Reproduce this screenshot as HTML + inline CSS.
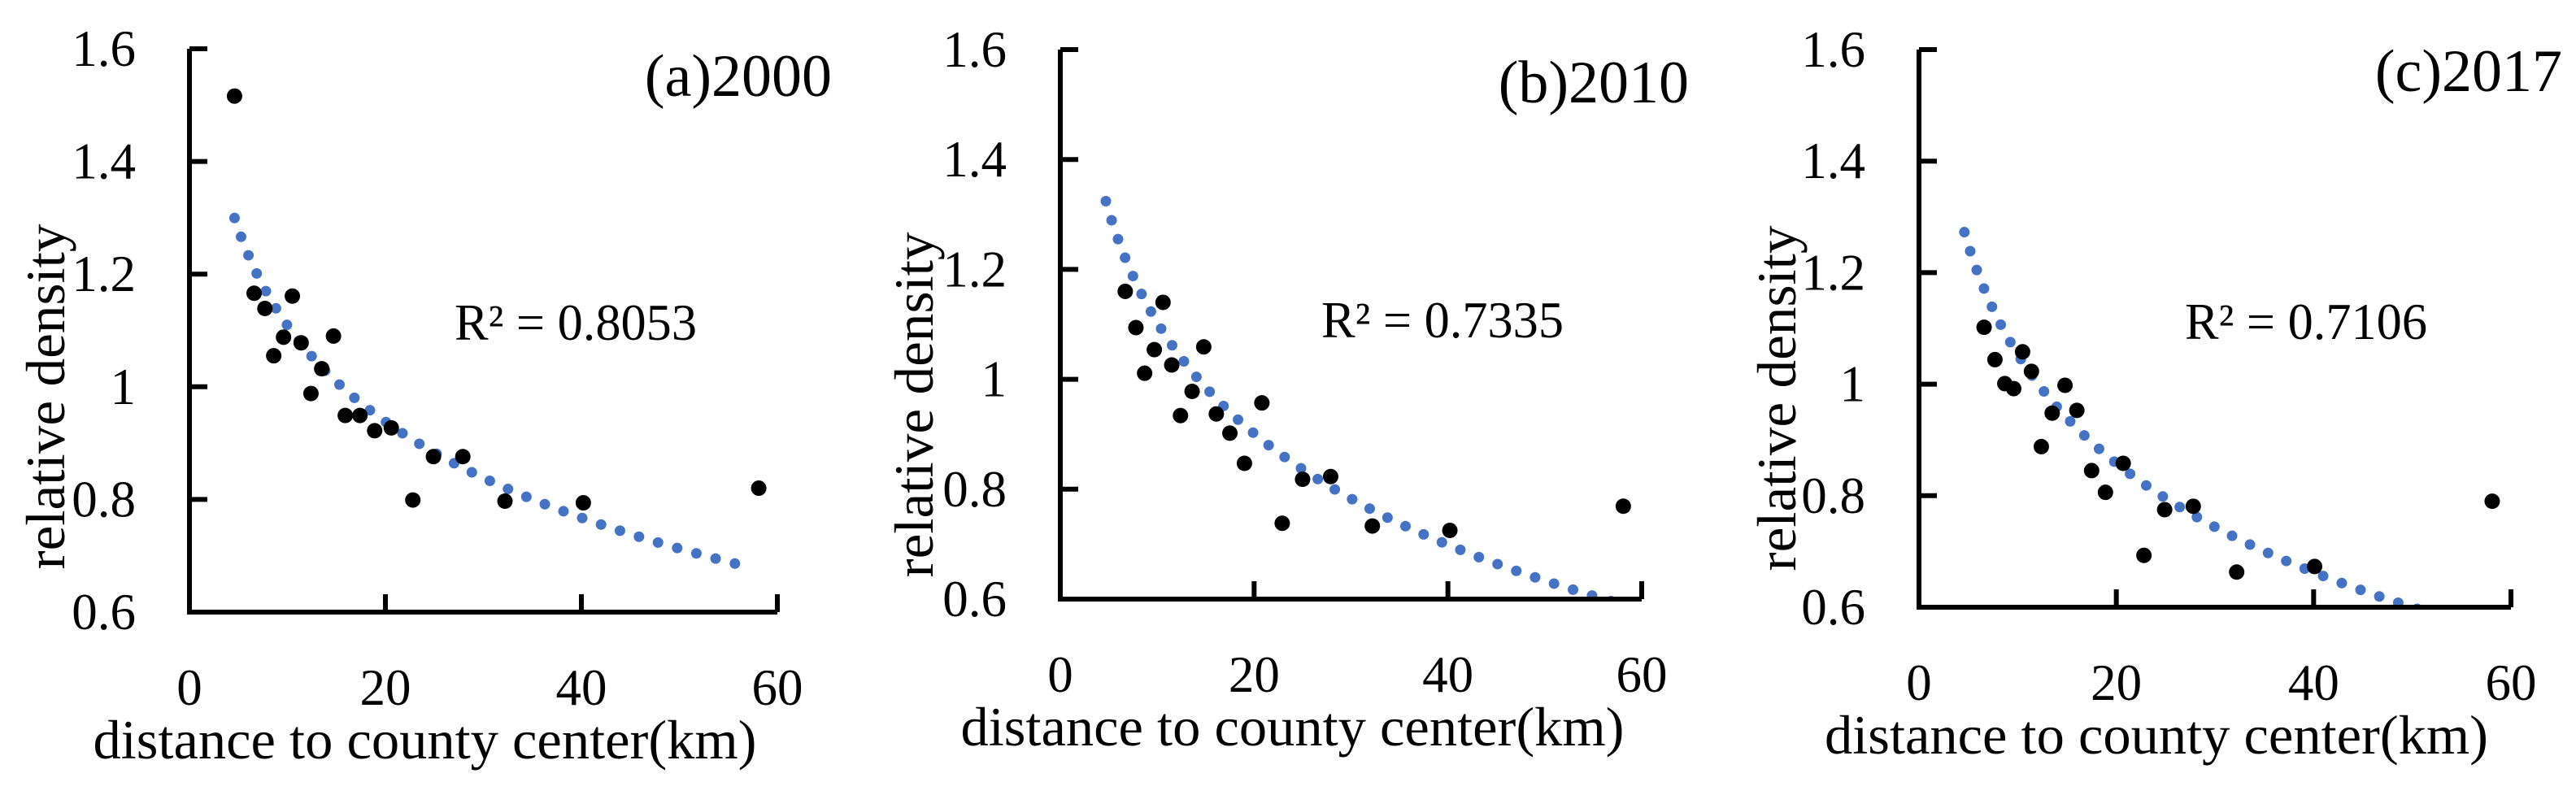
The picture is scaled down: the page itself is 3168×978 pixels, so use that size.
<!DOCTYPE html>
<html><head><meta charset="utf-8"><style>
html,body{margin:0;padding:0;background:#fff;}
svg{display:block;font-family:"Liberation Serif",serif;}
</style></head><body>
<svg id="fig" width="3168" height="978" viewBox="0 0 3168 978" xmlns="http://www.w3.org/2000/svg"></svg>
<script>
// ---- data ----
const xTicks = [0, 20, 40, 60];
const yTicks = [0.6, 0.8, 1.0, 1.2, 1.4, 1.6];
const yTickLabels = ["0.6", "0.8", "1", "1.2", "1.4", "1.6"];
const panelTitles = ["(a)2000", "(b)2010", "(c)2017"];
const r2Labels = ["R² = 0.8053", "R² = 0.7335", "R² = 0.7106"];
const xA = [4.6,6.6,7.7,8.6,9.6,10.5,11.4,12.4,13.5,14.7,15.9,17.4,18.9,20.6,22.8,24.9,27.9,32.2,40.2,58.1];
const yA = [1.516,1.166,1.139,1.055,1.088,1.161,1.078,0.988,1.032,1.090,0.949,0.949,0.922,0.927,0.799,0.876,0.876,0.797,0.794,0.820];
const xB = [6.7,10.6,7.8,9.7,14.8,8.7,11.5,13.6,12.4,16.1,17.5,20.8,19.0,25.0,27.9,22.9,32.2,40.2,58.1];
const yB = [1.160,1.140,1.094,1.054,1.059,1.011,1.026,0.978,0.934,0.937,0.902,0.957,0.847,0.818,0.823,0.738,0.733,0.725,0.769];
const xC = [6.6,7.7,10.5,11.4,8.7,9.6,14.8,13.5,16.0,12.4,17.5,20.7,18.9,24.9,27.8,22.8,32.2,40.1,58.1];
const yC = [1.102,1.044,1.058,1.023,1.001,0.992,0.998,0.948,0.953,0.888,0.845,0.858,0.806,0.775,0.781,0.693,0.663,0.673,0.790];
// log trendline y = a + b ln(x)
const trendA = [1.675, 1.776, 1.703];
const trendB = [-0.246, -0.292, -0.282];
const trendStart = [4.6, 4.7, 4.6];
const trendEnd = [57, 60, 60];

// ---- layout ----
const panels = [
  {x0:233, x1:956, yBot:753, yTop:60, xs:xA, ys:yA, titleX:1023, titleY:118, r2X:559, r2Y:418, ytX:57, ytY:488},
  {x0:1304, x1:2019, yBot:737, yTop:61, xs:xB, ys:yB, titleX:2077, titleY:126, r2X:1625, r2Y:415, ytX:1125, ytY:498},
  {x0:2360, x1:3088, yBot:747, yTop:61, xs:xC, ys:yC, titleX:3151, titleY:112, r2X:2687, r2Y:417, ytX:2186, ytY:490}
];
const NS = "http://www.w3.org/2000/svg";
const svg = document.getElementById('fig');
function mk(tag, attrs, parent){
  const e = document.createElementNS(NS, tag);
  for (const k in attrs) e.setAttribute(k, attrs[k]);
  (parent||svg).appendChild(e);
  return e;
}
panels.forEach((p, i) => {
  const g = mk('g', {});
  
  
  const sx = v => p.x0 + (v - 0) / 60 * (p.x1 - p.x0);
  const sy = v => p.yBot - (v - 0.6) / 1.0 * (p.yBot - p.yTop);
  const clipId = 'clip' + i;
  const cp = mk('clipPath', {id: clipId}, g);
  mk('rect', {x: p.x0, y: p.yTop - 10, width: p.x1 - p.x0 + 10, height: p.yBot - p.yTop + 10}, cp);

  // trendline
  let d = '';
  const n = 200;
  for (let k = 0; k <= n; k++) {
    const xv = trendStart[i] + (trendEnd[i] - trendStart[i]) * k / n;
    const yv = trendA[i] + trendB[i] * Math.log(xv);
    d += (k ? 'L' : 'M') + sx(xv).toFixed(2) + ' ' + sy(yv).toFixed(2);
  }
  const tl = mk('path', {d: d, fill: 'none', stroke: '#4472C4', 'stroke-width': 13, 'stroke-linecap': 'round', 'stroke-dasharray': '0 24.5', 'clip-path': 'url(#' + clipId + ')'}, g);
  
  

  // points
  p.xs.forEach((xv, j) => {
    const c = mk('circle', {cx: sx(xv), cy: sy(p.ys[j]), r: 9.5, fill: '#000'}, g);
    
    
  });

  // axes
  const ax = mk('path', {d: `M${p.x0} ${p.yTop}V${p.yBot}H${p.x1}`, fill: 'none', stroke: '#000', 'stroke-width': 6}, g);
  
  
  yTicks.forEach((t, j) => {
    const y = sy(t);
    mk('line', {x1: p.x0, x2: p.x0 + 22, y1: y, y2: y, stroke: '#000', 'stroke-width': 6}, g);
    const lb = mk('text', {x: p.x0 - 66, y: y + 21, 'font-size': 63, 'text-anchor': 'end', fill: '#000'}, g);
    lb.textContent = yTickLabels[j];
    
    
  });
  xTicks.forEach(t => {
    const x = sx(t);
    mk('line', {x1: x, x2: x, y1: p.yBot, y2: p.yBot - 22, stroke: '#000', 'stroke-width': 6}, g);
    const lb = mk('text', {x: x, y: p.yBot + 114, 'font-size': 63, 'text-anchor': 'middle', fill: '#000'}, g);
    lb.textContent = String(t);
    
    
  });

  // titles
  const xt = mk('text', {x: (p.x0 + p.x1) / 2 - 72, y: p.yBot + 180, 'font-size': 68, 'text-anchor': 'middle', textLength: 816, lengthAdjust: 'spacingAndGlyphs', fill: '#000'}, g);
  xt.textContent = 'distance to county center(km)';
  
  
  const yt = mk('text', {x: 0, y: 0, 'font-size': 68, 'text-anchor': 'middle', textLength: 425, lengthAdjust: 'spacingAndGlyphs', transform: `translate(${p.ytX + 22},${p.ytY}) rotate(-90)`, fill: '#000'}, g);
  yt.textContent = 'relative density';
  
  
  const pt = mk('text', {x: p.titleX, y: p.titleY, 'font-size': 74, 'text-anchor': 'end', fill: '#000'}, g);
  pt.textContent = panelTitles[i];
  
  
  const r2 = mk('text', {x: p.r2X, y: p.r2Y, 'font-size': 63, textLength: 298, lengthAdjust: 'spacingAndGlyphs', fill: '#000'}, g);
  r2.textContent = r2Labels[i];
  
  
});
</script>
</body></html>
